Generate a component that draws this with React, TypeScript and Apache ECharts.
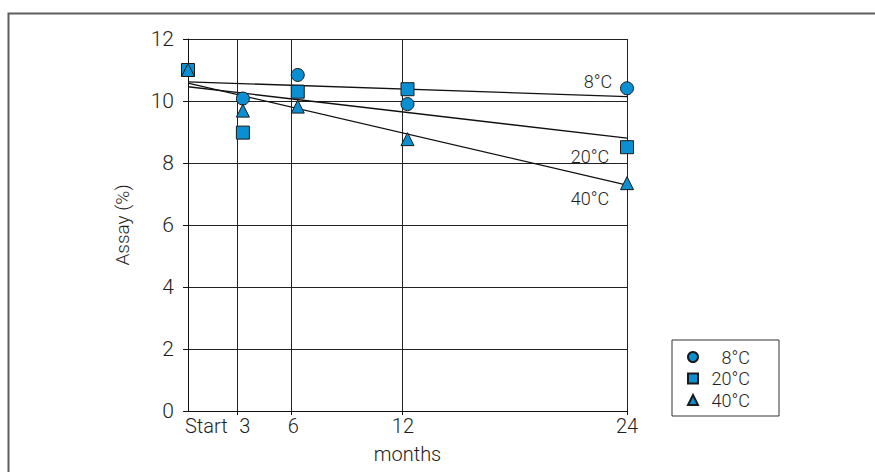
import React, { useEffect, useRef } from "react";
import * as echarts from "echarts";

// ---- data ----
const seriesNames = ["8°C", "20°C", "40°C"];
const seriesSymbols = ["circle", "rect", "triangle"];
const months = [0, 3, 6, 12, 24];
const assay8 = [11.0, 10.08, 10.84, 9.9, 10.41];
const assay20 = [11.0, 8.98, 10.3, 10.38, 8.51];
const assay40 = [11.0, 9.69, 9.82, 8.77, 7.35];
const trendStart = [10.62, 10.46, 10.58];
const trendEnd = [10.14, 8.8, 7.29];
const gridMonths = [2.68, 5.63, 11.7, 24];
const xTickLabels = ["Start", "3", "6", "12", "24"];
const xTickPos = [1.0, 3.1, 5.75, 11.75, 24];

const FONT = "Roboto";
const WEIGHT = 300;
const TEXT = "#1e1e1e";
const BLUE = "#0a90d2";
const INK = "#1a1a1a";

export default function App() {
  const ref = useRef<HTMLDivElement>(null);
  useEffect(() => {
    if (!ref.current) return;
    const chart = echarts.init(ref.current, undefined, { renderer: "svg" });
    const assays = [assay8, assay20, assay40];
    const labelOffsets = [
      [-29, -15],
      [-37, 18],
      [-37, 13],
    ];
    const trendSeries = seriesNames.map((name, i) => ({
      name: name + " trend",
      type: "line",
      data: [
        [0, trendStart[i]],
        [24, trendEnd[i]],
      ],
      symbol: "none",
      lineStyle: { color: "#111", width: 1.3 },
      z: 2,
      markPoint: {
        symbol: "circle",
        symbolSize: 0,
        silent: true,
        label: {
          show: true,
          formatter: name,
          offset: labelOffsets[i],
          color: TEXT,
          fontFamily: FONT,
          fontWeight: WEIGHT,
          fontSize: 18,
        },
        data: [{ coord: [24, trendEnd[i]] }],
      },
      markLine:
        i === 0
          ? {
              silent: true,
              symbol: ["none", "none"],
              label: { show: false },
              lineStyle: { color: "#222", width: 1, type: "solid" },
              data: gridMonths.map((m) => ({ xAxis: m })),
            }
          : undefined,
    }));
    const scatterSeries = seriesNames.map((name, i) => ({
      name,
      type: "scatter",
      symbol: seriesSymbols[i],
      symbolSize: 13,
      data: months.map((m, k) => [m, assays[i][k]]),
      itemStyle: { color: BLUE, borderColor: INK, borderWidth: 1, opacity: 1 },
      z: 5 + i,
    }));

    chart.setOption({
      animation: false,
      backgroundColor: "#fff",
      grid: { left: 188, top: 39, right: 248, bottom: 61, containLabel: false },
      xAxis: {
        type: "value",
        min: 0,
        max: 24,
        name: "months",
        nameLocation: "middle",
        nameGap: 33,
        nameTextStyle: { color: TEXT, fontFamily: FONT, fontWeight: WEIGHT, fontSize: 20 },
        axisLine: { show: true, lineStyle: { color: "#111", width: 1 } },
        axisTick: {
          show: true,
          length: 4,
          customValues: gridMonths,
          lineStyle: { color: "#111" },
        },
        splitLine: { show: false },
        axisLabel: {
          customValues: xTickPos,
          color: TEXT,
          fontFamily: FONT,
          fontWeight: WEIGHT,
          fontSize: 20,
          margin: 5,
          formatter: (v: number) => {
            const i = xTickPos.findIndex((p) => Math.abs(p - v) < 1e-6);
            return i >= 0 ? xTickLabels[i] : "";
          },
        },
      },
      yAxis: {
        type: "value",
        min: 0,
        max: 12,
        interval: 2,
        name: "Assay (%)",
        nameLocation: "middle",
        nameGap: 56,
        nameRotate: 90,
        nameTextStyle: { color: TEXT, fontFamily: FONT, fontWeight: WEIGHT, fontSize: 19 },
        axisLine: { show: true, lineStyle: { color: "#111", width: 1 } },
        axisTick: { show: true, length: 5, lineStyle: { color: "#111" } },
        splitLine: { show: true, lineStyle: { color: "#222", width: 1 } },
        axisLabel: { color: TEXT, fontFamily: FONT, fontWeight: WEIGHT, fontSize: 21, margin: 14 },
      },
      legend: {
        data: seriesNames,
        orient: "vertical",
        left: 672,
        top: 340,
        padding: [7, 29, 6, 15],
        borderColor: "#333",
        borderWidth: 1,
        itemWidth: 10,
        itemHeight: 10,
        itemGap: 1.5,
        formatter: (n: string) => `{t|${n}}`,
        textStyle: {
          color: TEXT,
          fontFamily: FONT,
          fontWeight: WEIGHT,
          fontSize: 18,
          lineHeight: 20,
          rich: {
            t: {
              width: 47,
              align: "right",
              fontSize: 18,
              fontFamily: FONT,
              fontWeight: WEIGHT,
              color: TEXT,
              lineHeight: 20,
            },
          },
        },
      },
      graphic: [
        {
          type: "rect",
          shape: { x: 8.5, y: 13.5, width: 2000, height: 2000 },
          style: { fill: "none", stroke: "#5e5e5e", lineWidth: 2 },
          silent: true,
        },
      ],
      series: [...trendSeries, ...scatterSeries],
    });
    return () => chart.dispose();
  }, []);
  return (
    <div
      ref={ref}
      style={{ position: "absolute", left: 0, top: 0, width: 875, height: 472 }}
    />
  );
}
